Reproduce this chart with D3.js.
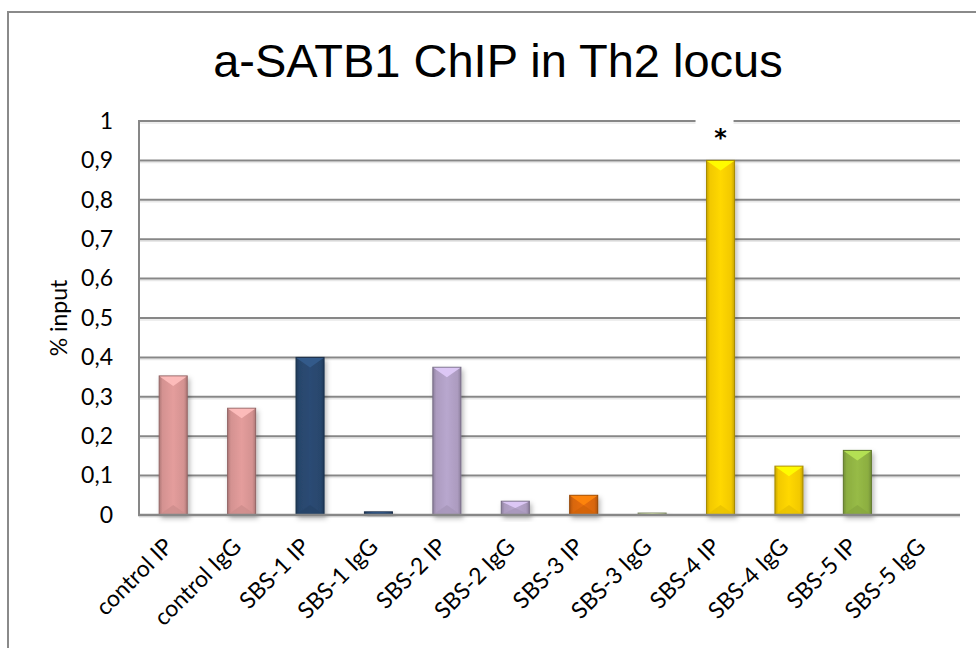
<!DOCTYPE html>
<html><head><meta charset="utf-8">
<script src="https://cdn.jsdelivr.net/npm/d3@7"></script>
<style>html,body{margin:0;padding:0;background:#fff;} svg{display:block;}</style>
</head><body>
<svg id="chart" width="976" height="648"></svg>
<script>
const categories = ["control IP","control IgG","SBS-1 IP","SBS-1 IgG","SBS-2 IP","SBS-2 IgG","SBS-3 IP","SBS-3 IgG","SBS-4 IP","SBS-4 IgG","SBS-5 IP","SBS-5 IgG"];
const values = [0.353,0.271,0.400,0.008,0.375,0.035,0.050,0.005,0.900,0.124,0.164,0];
const barColors = ["#E09A99","#E09A99","#2A4A72","#2A4A72","#B5A4CA","#B5A4CA","#E46C0A","#C4D79B","#FFD400","#FFD400","#94B845","#94B845"];
const tickValues = [0,0.1,0.2,0.3,0.4,0.5,0.6,0.7,0.8,0.9,1];
const tickLabels = ["0","0,1","0,2","0,3","0,4","0,5","0,6","0,7","0,8","0,9","1"];
const annotationCats = ["SBS-4 IP"];
const annotationTexts = ["*"];
const titleText = "a-SATB1 ChIP in Th2 locus";
const yTitleText = "% input";

const svg = d3.select("#chart");
const m = {left:139, right:960, top:121, bottom:515};
const font = "Lato, 'Open Sans', sans-serif";

// outer frame
svg.append("rect").attr("x",8).attr("y",12).attr("width",1000).attr("height",700)
  .attr("fill","#fff").attr("stroke","#8a8a8a").attr("stroke-width",2);

const x = d3.scaleBand().domain(categories).range([m.left, m.right]).paddingInner(0.59).paddingOuter(0.295);
const y = d3.scaleLinear().domain([0,1]).range([m.bottom, m.top]);

const defs = svg.append("defs");
const f = defs.append("filter").attr("id","sh").attr("x","-50%").attr("y","-50%").attr("width","200%").attr("height","200%");
f.append("feDropShadow").attr("dx",2).attr("dy",3).attr("stdDeviation",2.5).attr("flood-color","#000").attr("flood-opacity",0.28);

barColors.forEach((c,i)=>{
  const col = d3.color(c);
  const g = defs.append("linearGradient").attr("id","g"+i).attr("x1","0").attr("x2","1").attr("y1","0").attr("y2","0");
  g.append("stop").attr("offset","0").attr("stop-color", col.darker(0.7));
  g.append("stop").attr("offset","0.12").attr("stop-color", col.darker(0.15));
  g.append("stop").attr("offset","0.5").attr("stop-color", col.brighter(0.05));
  g.append("stop").attr("offset","0.88").attr("stop-color", col.darker(0.15));
  g.append("stop").attr("offset","1").attr("stop-color", col.darker(0.7));
});

// gridlines
const grid = svg.append("g");
tickValues.forEach(t=>{
  grid.append("line").attr("x1",m.left).attr("x2",m.right).attr("y1",y(t)+2).attr("y2",y(t)+2)
    .attr("stroke","#e8e8e8").attr("stroke-width",1.5);
});
tickValues.forEach(t=>{
  grid.append("line").attr("x1",m.left).attr("x2",m.right).attr("y1",y(t)).attr("y2",y(t))
    .attr("stroke","#878787").attr("stroke-width",2);
});

// left axis line
svg.append("line").attr("x1",m.left).attr("x2",m.left).attr("y1",m.top-1).attr("y2",m.bottom+1)
  .attr("stroke","#878787").attr("stroke-width",2);

// bars
const bars = svg.append("g");
categories.forEach((cat,i)=>{
  const v = values[i];
  if (v <= 0) return;
  const x0 = x(cat), bw = x.bandwidth();
  const y0 = y(v), h = y(0) - y0;
  const col = d3.color(barColors[i]);
  const bg = bars.append("g");
  bg.append("rect").attr("x",x0).attr("y",y0).attr("width",bw).attr("height",h)
    .attr("fill","url(#g"+i+")").attr("stroke",col.darker(1.2)).attr("stroke-width",1).attr("filter","url(#sh)");
  const t = Math.min(10, h/2);
  bg.append("polygon").attr("points",[[x0+0.5,y0+0.5],[x0+bw-0.5,y0+0.5],[x0+bw/2,y0+t]].map(p=>p.join(",")).join(" "))
    .attr("fill",col.brighter(0.6)).attr("opacity",0.9);
  bg.append("polygon").attr("points",[[x0+0.5,y0+h-0.5],[x0+bw-0.5,y0+h-0.5],[x0+bw/2,y0+h-t]].map(p=>p.join(",")).join(" "))
    .attr("fill",col.darker(0.25)).attr("opacity",0.8);
});

// bottom axis line
svg.append("line").attr("x1",m.left-1).attr("x2",m.right).attr("y1",m.bottom).attr("y2",m.bottom)
  .attr("stroke","#878787").attr("stroke-width",2.5);

// y axis labels
const yAxis = d3.axisLeft(y).tickValues(tickValues).tickFormat((d,i)=>tickLabels[i]).tickSize(0).tickPadding(26);
const ya = svg.append("g").attr("transform",`translate(${m.left},0)`).call(yAxis);
ya.select(".domain").remove();
ya.selectAll("text").attr("font-family",font).attr("font-size",23).attr("fill","#000");

// x axis labels
const xAxis = d3.axisBottom(x).tickSize(0).tickPadding(0);
const xa = svg.append("g").attr("transform",`translate(0,${m.bottom})`).call(xAxis);
xa.select(".domain").remove();
xa.selectAll("text").attr("font-family",font).attr("font-size",23).attr("fill","#000")
  .attr("text-anchor","end").attr("dy",0).attr("y",0)
  .attr("transform","translate(1,33) rotate(-45)");

// y title
svg.append("text").attr("transform",`translate(67,${(m.top+m.bottom)/2}) rotate(-90)`)
  .attr("text-anchor","middle").attr("font-family",font).attr("font-size",23).text(yTitleText);

// chart title
svg.append("text").attr("x",498).attr("y",77).attr("text-anchor","middle")
  .attr("font-family","'Liberation Sans', Arial, sans-serif").attr("font-size",47).text(titleText);

// annotations
annotationCats.forEach((cat,i)=>{
  const cx = x(cat) + x.bandwidth()/2;
  svg.append("rect").attr("x",cx-25).attr("y",m.top-4).attr("width",38).attr("height",10).attr("fill","#fff");
  svg.append("text").attr("x",cx).attr("y",146).attr("text-anchor","middle")
    .attr("font-family","'DejaVu Sans', sans-serif").attr("font-weight","bold").attr("font-size",24).text(annotationTexts[i]);
});
</script>
</body></html>
